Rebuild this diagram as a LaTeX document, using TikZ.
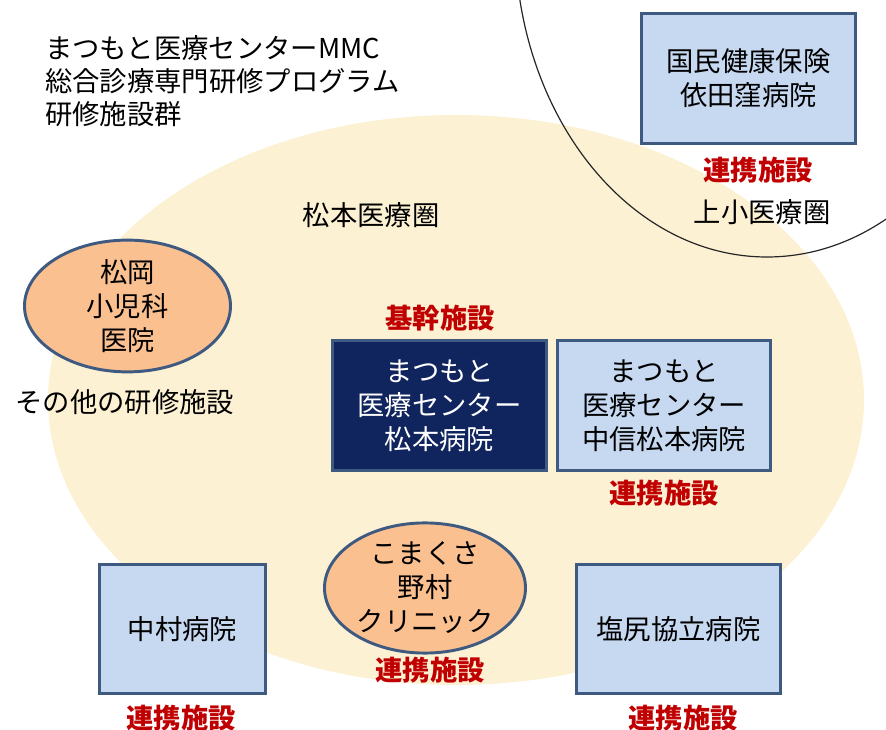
\documentclass[tikz,border=0pt]{standalone}
\usepackage{fontspec}
\setmainfont{Noto Sans CJK JP}
\usetikzlibrary{shapes.geometric}
\definecolor{beige}{RGB}{253,241,212}
\definecolor{boxblue}{RGB}{198,217,241}
\definecolor{edgeblue}{RGB}{62,90,128}
\definecolor{navyfill}{RGB}{16,36,94}
\definecolor{orangefill}{RGB}{250,192,144}
\definecolor{redtext}{RGB}{192,0,0}
\begin{document}
\begin{tikzpicture}[x=0.75pt,y=-0.75pt,
  every node/.style={font=\fontsize{20.5}{25.5}\selectfont, align=center, inner sep=0pt},
  hosp/.style={draw=edgeblue, line width=2.2pt, fill=boxblue, rectangle},
  core/.style={hosp, fill=navyfill, text=white},
  clinic/.style={ellipse, draw=edgeblue, line width=2.2pt, fill=orangefill},
  role/.style={text=redtext, font=\fontsize{20.5}{25.5}\selectfont\bfseries},
  areaname/.style={font=\fontsize{20.5}{25.5}\selectfont}]
\useasboundingbox (0,0) rectangle (886,730);
% Matsumoto area
\fill[beige] (456,400) ellipse [x radius=408, y radius=285];
% Joshou area boundary
\begin{scope}
  \clip (0,0) rectangle (886,730);
  \draw[line width=0.9pt, black!85] (767,-63) ellipse [x radius=252, y radius=320];
\end{scope}
% title
\node[anchor=west] (t1) at (45,48) {まつもと医療センターMMC};
\node[anchor=west] (t2) at (45,81) {総合診療専門研修プログラム};
\node[anchor=west] (t3) at (45,114) {研修施設群};
% area labels
\node[areaname] (matsumotoArea) at (371,215) {松本医療圏};
\node[areaname] (joshoArea) at (762,212) {上小医療圏};
% boxes
\node[hosp, minimum width=160.5pt, minimum height=97.5pt] (yoda) at (748.5,78.5) {国民健康保険\\依田窪病院};
\node[role] (yodaRole) at (758,170) {連携施設};
\node[role] (coreRole) at (440,318) {基幹施設};
\node[core, minimum width=160.5pt, minimum height=97.5pt] (mmc) at (439.5,405.5) {まつもと\\医療センター\\松本病院};
\node[hosp, minimum width=159.75pt, minimum height=97.5pt] (chushin) at (664,405.5) {まつもと\\医療センター\\中信松本病院};
\node[role] (chushinRole) at (664,493) {連携施設};
\node[clinic, minimum width=154.5pt, minimum height=89.25pt] (matsuoka) at (127.5,306) {松岡\\小児科\\医院};
\node (others) at (125,402) {その他の研修施設};
\node[clinic, minimum width=150.75pt, minimum height=90.75pt] (komakusa) at (425,588) {こまくさ\\野村\\クリニック};
\node[role] (komakusaRole) at (430,670) {連携施設};
\node[hosp, minimum width=124.5pt, minimum height=96.75pt] (nakamura) at (182.5,629) {中村病院};
\node[role] (nakamuraRole) at (181,718) {連携施設};
\node[hosp, minimum width=153pt, minimum height=96.75pt] (shiojiri) at (678.5,629) {塩尻協立病院};
\node[role] (shiojiriRole) at (683,718) {連携施設};
\end{tikzpicture}
\end{document}
